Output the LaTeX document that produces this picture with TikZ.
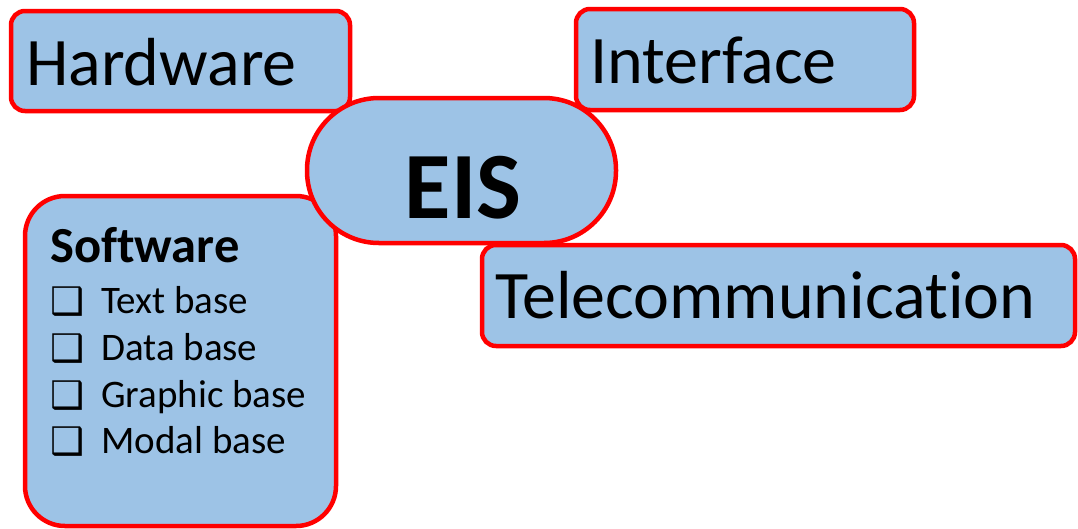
\documentclass[tikz,border=0pt]{standalone}
\usepackage{fontspec}
\setmainfont{Carlito}[Ligatures={NoCommon}]
\newfontfamily\symfont{DejaVu Sans}
\definecolor{boxblue}{RGB}{157,195,230}
\definecolor{boxred}{RGB}{255,0,0}
\tikzset{
  box/.style={draw=boxred, fill=boxblue, line width=4.5pt, rectangle, inner sep=0pt},
  lbl/.style={inner sep=0pt, text=black, font=\fontsize{68}{80}\selectfont},
  title/.style={inner sep=0pt, text=black, font=\bfseries\fontsize{50.5}{58}\selectfont},
  item/.style={inner sep=0pt, text=black, font=\fontsize{39}{46}\selectfont},
  tick/.style={inner sep=0pt, text=black, font=\symfont\fontsize{38}{44}\selectfont},
}
\begin{document}
\begin{tikzpicture}[x=1pt, y=-1pt]
\useasboundingbox (0,0) rectangle (1078,528);

% outer boxes
\node[box, rounded corners=14pt, minimum width=339pt, minimum height=100pt] (hw) at (180.5,61) {};
\node[box, rounded corners=14pt, minimum width=338pt, minimum height=101pt] (ifc) at (745,59.5) {};
\node[box, rounded corners=14pt, minimum width=593pt, minimum height=101pt] (tel) at (778.5,295.5) {};
\node[box, rounded corners=40pt, minimum width=311pt, minimum height=330pt] (sw) at (180.5,361) {};

% central element on top
\node[box, rounded corners=72pt, minimum width=309pt, minimum height=145pt] (eis) at (461.5,170.5) {};

% labels
\node[lbl, anchor=base west] (hwt) at (26,85) {Hardware};
\node[lbl, anchor=base west] (ifct) at (590,83) {Interface};
\node[lbl, anchor=base west] (telt) at (495,318) {Telecommunication};
\node[inner sep=0pt, font=\bfseries\fontsize{95}{110}\selectfont, anchor=base] (eist) at (463,218) {EIS};

\node[title, anchor=base west] (swt) at (50,262) {Software};
\node[tick, anchor=base west] (b1) at (50,314) {❑};
\node[item, anchor=base west] (i1) at (101,313) {Text base};
\node[tick, anchor=base west] (b2) at (50,361) {❑};
\node[item, anchor=base west] (i2) at (101,360) {Data base};
\node[tick, anchor=base west] (b3) at (50,408) {❑};
\node[item, anchor=base west] (i3) at (101,407) {Graphic base};
\node[tick, anchor=base west] (b4) at (50,454) {❑};
\node[item, anchor=base west] (i4) at (101,453) {Modal base};
\end{tikzpicture}
\end{document}
